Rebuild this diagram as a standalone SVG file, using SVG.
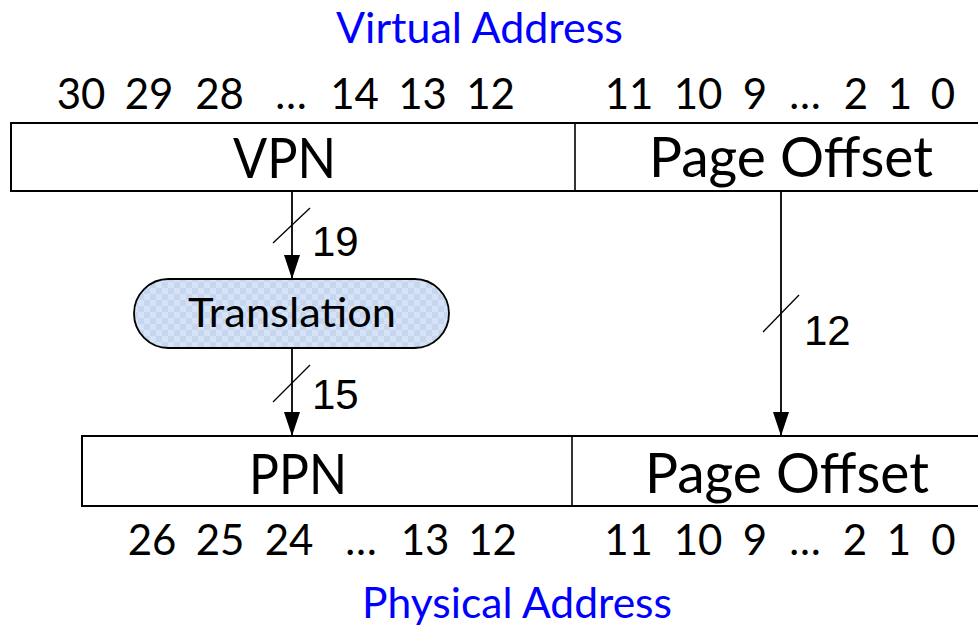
<svg xmlns="http://www.w3.org/2000/svg" width="978" height="626" viewBox="0 0 978 626">
<style>
.box{fill:#fff;stroke:#000;stroke-width:2}
.div{stroke:#000;stroke-width:1.6}
.wire{stroke:#000;stroke-width:1.8;fill:none}
.slash{stroke:#000;stroke-width:1.3}
.num{font-family:Lato,"Liberation Sans",sans-serif;font-size:42px;fill:#000;text-anchor:middle}
.big{font-family:Lato,"Liberation Sans",sans-serif;font-size:57px;fill:#000}
.title{font-family:Lato,"Liberation Sans",sans-serif;font-size:42px;fill:#0000ff}
.width{font-family:"Liberation Sans",Arial,sans-serif;font-size:42px;fill:#000}
.lbl{font-family:Lato,"Liberation Sans",sans-serif;font-size:40px;fill:#000}
</style>
<defs>
<pattern id="chk" width="12" height="12" patternUnits="userSpaceOnUse">
<rect width="12" height="12" fill="#d6e2f5"/>
<rect width="6" height="6" fill="#c6d6ef"/>
<rect x="6" y="6" width="6" height="6" fill="#c6d6ef"/>
</pattern>
<marker id="arr" markerUnits="userSpaceOnUse" markerWidth="26" markerHeight="16" refX="24" refY="8" orient="auto">
<path d="M0,0 L24,8 L0,16 Z" fill="#000"/>
</marker>
</defs>

<g id="title-virtual">
<text class="title" x="336" y="43" textLength="287" lengthAdjust="spacingAndGlyphs">Virtual Address</text>
</g>

<g id="vbits">
<text class="num" y="109"><tspan x="81">30</tspan><tspan x="149">29</tspan><tspan x="219.5">28</tspan><tspan x="291">…</tspan><tspan x="354.5">14</tspan><tspan x="422.5">13</tspan><tspan x="490.5">12</tspan><tspan x="629">11</tspan><tspan x="698">10</tspan><tspan x="755">9</tspan><tspan x="805">…</tspan><tspan x="856">2</tspan><tspan x="900">1</tspan><tspan x="943">0</tspan></text>
</g>

<g id="virtual-address">
<rect class="box" x="11" y="123" width="990" height="68"/>
<line class="div" x1="575" y1="123" x2="575" y2="191"/>
<text class="big" x="233" y="178" textLength="103" lengthAdjust="spacingAndGlyphs">VPN</text>
<text class="big" x="649" y="177" textLength="284" lengthAdjust="spacingAndGlyphs">Page Offset</text>
</g>

<g id="translation">
<rect x="134" y="279" width="315" height="69" rx="34.5" ry="34.5" fill="url(#chk)" stroke="#000" stroke-width="1.8"/>
<text class="lbl" x="188" y="327" textLength="208" lengthAdjust="spacingAndGlyphs">Translation</text>
</g>

<g id="physical-address">
<rect class="box" x="82" y="436" width="920" height="70"/>
<line class="div" x1="572" y1="436" x2="572" y2="506"/>
<text class="big" x="249" y="494" textLength="98" lengthAdjust="spacingAndGlyphs">PPN</text>
<text class="big" x="645" y="493" textLength="284" lengthAdjust="spacingAndGlyphs">Page Offset</text>
</g>

<g id="pbits">
<text class="num" y="555"><tspan x="152">26</tspan><tspan x="220">25</tspan><tspan x="289">24</tspan><tspan x="361">…</tspan><tspan x="425">13</tspan><tspan x="492.5">12</tspan><tspan x="628.5">11</tspan><tspan x="698">10</tspan><tspan x="755">9</tspan><tspan x="805">…</tspan><tspan x="855">2</tspan><tspan x="899">1</tspan><tspan x="943.5">0</tspan></text>
</g>

<g id="title-physical">
<text class="title" x="362" y="618" textLength="310" lengthAdjust="spacingAndGlyphs">Physical Address</text>
</g>

<g id="connectors">
<line class="wire" x1="292" y1="191" x2="292" y2="279" marker-end="url(#arr)"/>
<line class="slash" x1="273" y1="243" x2="310" y2="208"/>
<text class="width" x="312" y="256">19</text>

<line class="wire" x1="292" y1="348" x2="292" y2="436" marker-end="url(#arr)"/>
<line class="slash" x1="273" y1="402" x2="310" y2="365"/>
<text class="width" x="312" y="409">15</text>

<line class="wire" x1="781" y1="191" x2="781" y2="436" marker-end="url(#arr)"/>
<line class="slash" x1="763" y1="332" x2="799" y2="295"/>
<text class="width" x="804" y="345">12</text>
</g>
</svg>
